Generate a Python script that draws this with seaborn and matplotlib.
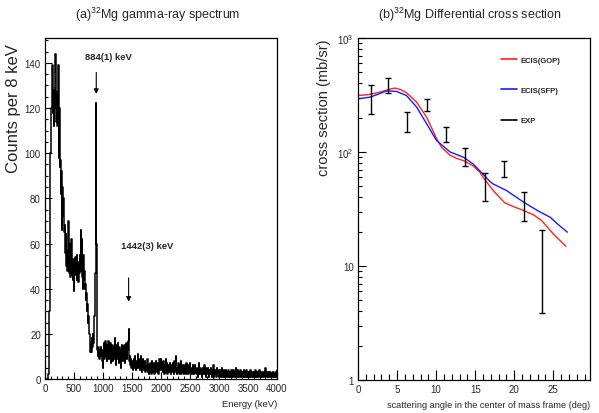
import numpy as np
import pandas as pd
import matplotlib
matplotlib.use("Agg")
import matplotlib.pyplot as plt
import seaborn as sns
from matplotlib.lines import Line2D
from matplotlib.ticker import MultipleLocator, LogLocator, NullFormatter, FixedLocator, FixedFormatter

# ---------------- data: (a) gamma-ray spectrum, 8 keV bins from 0 to 4000 keV
bin_width = 8
spectrum_counts = [
    0, 0, 0, 0, 0, 0, 0, 2, 8, 30, 65, 100, 114, 113, 120, 128, 139, 118, 126, 112, 128, 120, 144, 126, 114,
    127, 112, 122, 125, 139, 98, 120, 94, 97, 82, 92, 66, 85, 72, 80, 66, 73, 65, 68, 56, 64, 50, 57, 48, 55,
    70, 52, 47, 60, 45, 55, 48, 62, 46, 52, 44, 53, 39, 50, 46, 54, 47, 52, 44, 55, 46, 52, 43, 50, 47,
    55, 48, 66, 50, 62, 45, 52, 40, 55, 44, 48, 40, 42, 35, 38, 30, 33, 25, 28, 22, 20, 18, 15, 12, 16,
    12, 18, 14, 20, 16, 22, 28, 38, 47, 100, 122, 60, 25, 13, 10, 14, 12, 9, 13, 10, 14, 11, 12, 8, 13,
    5, 12, 16, 9, 14, 17, 10, 13, 8, 15, 11, 17, 12, 9, 14, 11, 16, 7, 13, 10, 15, 8, 12, 14, 9,
    18, 10, 13, 6, 15, 11, 9, 16, 12, 7, 14, 10, 13, 5, 11, 15, 9, 12, 8, 14, 10, 15, 7, 12, 11,
    16, 9, 14, 13, 17, 22, 12, 8, 10, 6, 9, 5, 7, 8, 4, 6, 9, 5, 7, 10, 6, 4, 8, 5, 7,
    11, 5, 6, 9, 4, 7, 10, 5, 8, 3, 6, 9, 4, 7, 5, 8, 3, 6, 4, 7, 9, 3, 5, 6, 2,
    6, 3, 7, 5, 2, 8, 4, 6, 3, 5, 7, 2, 6, 4, 8, 3, 5, 7, 4, 2, 6, 9, 4, 5, 8,
    9, 5, 4, 7, 3, 8, 5, 2, 6, 4, 9, 3, 5, 7, 2, 6, 4, 5, 3, 7, 4, 2, 6, 5, 3,
    7, 4, 2, 5, 8, 3, 6, 10, 4, 2, 5, 3, 7, 4, 2, 6, 3, 5, 8, 2, 4, 6, 3, 5, 2,
    6, 3, 4, 2, 7, 4, 3, 5, 2, 6, 3, 4, 7, 2, 5, 3, 4, 2, 6, 3, 5, 2, 4, 6, 3,
    4, 2, 5, 3, 1, 4, 7, 2, 3, 5, 2, 4, 3, 1, 5, 3, 2, 4, 6, 2, 3, 5, 1, 3, 4,
    2, 5, 3, 1, 4, 2, 3, 5, 2, 1, 4, 3, 2, 6, 1, 3, 4, 2, 3, 1, 5, 2, 3, 4, 1,
    3, 2, 4, 1, 3, 2, 5, 1, 3, 2, 4, 1, 2, 3, 1, 4, 2, 3, 1, 2, 4, 1, 3, 2, 1,
    2, 4, 1, 3, 2, 1, 4, 2, 3, 1, 2, 5, 1, 2, 3, 1, 4, 2, 1, 3, 2, 4, 1, 2, 3,
    1, 3, 2, 4, 1, 2, 3, 1, 2, 4, 1, 3, 2, 1, 3, 2, 1, 4, 2, 3, 1, 2, 3, 1, 2,
    3, 1, 2, 4, 1, 2, 3, 1, 2, 1, 3, 2, 4, 1, 2, 1, 3, 2, 1, 2, 3, 1, 2, 1, 3,
    5, 2, 1, 3, 2, 1, 2, 3, 1, 2, 1, 3, 2, 1, 2, 1, 3, 1, 2, 1, 2, 3, 1, 2, 4,
]
peak_energies = [884, 1442]
peak_labels = ["884(1) keV", "1442(3) keV"]

# ---------------- data: (b) differential cross section
gop_angle = [0.0, 1.5, 3.0, 4.0, 4.73, 5.5, 6.2, 7.5, 8.78, 10.06, 10.7, 11.76, 12.6, 13.5, 14.7,
             15.6, 16.0, 17.3, 18.8, 20.0, 21.2, 22.5, 23.5, 25.0, 26.6]
gop_xsec = [313, 320, 338, 355, 364, 352, 331, 274, 202, 131, 110, 94, 88, 84, 76,
            66.5, 60, 46, 35.8, 33, 30.7, 28, 25.1, 19.1, 14.9]
sfp_angle = [0.0, 1.53, 2.5, 3.67, 4.95, 6.2, 7.5, 8.78, 10.06, 11.8, 13.5, 14.7, 16.0, 16.9,
             17.3, 19.0, 21.2, 23.1, 24.6, 25.5, 26.8]
sfp_xsec = [293, 303, 320, 344, 340, 313, 248, 177, 126, 100, 90, 79, 64, 55,
            52.5, 46, 36.3, 30.3, 26.8, 23.5, 19.8]
exp_angle = [1.7, 3.8, 6.3, 8.8, 11.2, 13.7, 16.2, 18.7, 21.2, 23.6]
exp_xsec = [300, 388, 188, 260, 144, 92, 51, 72, 35, 12.3]
exp_err = [85, 58, 38, 33, 22, 17, 14, 12, 10, 8.4]

# ---------------- style
sns.set_style("ticks")
plt.rcParams["font.family"] = ["Liberation Sans", "DejaVu Sans"]
plt.rcParams["mathtext.fontset"] = "custom"
plt.rcParams["mathtext.rm"] = "Liberation Sans"
plt.rcParams["mathtext.it"] = "Liberation Sans:italic"
plt.rcParams["mathtext.bf"] = "Liberation Sans:bold"

fig = plt.figure(figsize=(5.99, 4.14), dpi=100)
fig.patch.set_facecolor("white")
ax1 = fig.add_axes([0.0751, 0.0821, 0.3873, 0.8237])
ax2 = fig.add_axes([0.5977, 0.0797, 0.3873, 0.8260])

# ---------------- panel (a)
n_bins = len(spectrum_counts)
centers = np.arange(n_bins) * bin_width + bin_width / 2
df_spec = pd.DataFrame({"energy": centers, "counts": spectrum_counts})
sns.histplot(data=df_spec, x="energy", weights="counts", bins=n_bins,
             binrange=(0, n_bins * bin_width), element="step",
             fill=False, color="black", linewidth=1.1, ax=ax1)
ax1.set_xlim(0, 4000)
ax1.set_ylim(0, 151)
ax1.xaxis.set_major_locator(MultipleLocator(500))
ax1.xaxis.set_minor_locator(MultipleLocator(100))
ax1.yaxis.set_major_locator(MultipleLocator(20))
ax1.yaxis.set_minor_locator(MultipleLocator(5))
ax1.tick_params(which="both", direction="in", labelsize=7, pad=3, color="black")
ax1.tick_params(which="major", length=5, width=0.8)
ax1.tick_params(which="minor", length=2.5, width=0.8)
ax1.set_xlabel("Energy (keV)", fontsize=6.8, loc="right", labelpad=4)
ax1.set_ylabel("Counts per 8 keV", fontsize=12, labelpad=6)
ax1.yaxis.set_label_coords(-0.105, 0.795)

arrow_tops = [137, 46]
arrow_heads = [125, 33]
label_pos = [(1088, 143), (1762, 59)]
for e, lab, top, head, (tx, ty) in zip(peak_energies, peak_labels, arrow_tops, arrow_heads, label_pos):
    ax1.annotate("", xy=(e, head), xytext=(e, top),
                 arrowprops=dict(arrowstyle="-|>", color="black", lw=0.8, mutation_scale=7))
    ax1.text(tx, ty, lab, fontsize=6.8, fontweight="bold", ha="center", va="center")

for s in ax1.spines.values():
    s.set_linewidth(0.9)
    s.set_color("black")

fig.text(0.264, 0.965, r"(a)$^{32}$Mg gamma-ray spectrum", fontsize=9, ha="center", va="center")

# ---------------- panel (b)
sns.lineplot(x=gop_angle, y=gop_xsec, color="#ff2020", linewidth=1.0, ax=ax2)
sns.lineplot(x=sfp_angle, y=sfp_xsec, color="#1a1aff", linewidth=1.0, ax=ax2)
ax2.errorbar(exp_angle, exp_xsec, yerr=exp_err, fmt="none", ecolor="black", elinewidth=1.0,
             capsize=2, capthick=1.0)
ax2.set_yscale("log")
ax2.set_xlim(0, 29.7)
ax2.set_ylim(1, 1000)
ax2.xaxis.set_major_locator(MultipleLocator(5))
ax2.xaxis.set_minor_locator(MultipleLocator(1))
ax2.yaxis.set_major_locator(FixedLocator([1, 10, 100, 1000]))
ax2.yaxis.set_major_formatter(FixedFormatter(["1", "10", r"$10^{2}$", r"$10^{3}$"]))
ax2.yaxis.set_minor_locator(LogLocator(base=10, subs=np.arange(2, 10)))
ax2.yaxis.set_minor_formatter(NullFormatter())
ax2.tick_params(which="both", direction="in", labelsize=7, pad=3, color="black")
ax2.tick_params(axis="x", which="major", length=7, width=0.8)
ax2.tick_params(axis="x", which="minor", length=4, width=0.8)
ax2.tick_params(axis="y", which="major", length=6, width=0.8)
ax2.tick_params(axis="y", which="minor", length=3, width=0.8)
ax2.set_xlabel("scattering angle in the center of mass frame (deg)", fontsize=6.6, loc="right", labelpad=4)
ax2.set_ylabel("cross section (mb/sr)", fontsize=10.5, labelpad=4)
ax2.yaxis.set_label_coords(-0.115, 0.8)
for s in ax2.spines.values():
    s.set_linewidth(0.9)
    s.set_color("black")

handles = [Line2D([], [], color="#ff2020", lw=1.2),
           Line2D([], [], color="#1a1aff", lw=1.2),
           Line2D([], [], color="black", lw=1.2)]
leg = ax2.legend(handles, ["ECIS(GOP)", "ECIS(SFP)", "EXP"], loc="upper left",
                 bbox_to_anchor=(0.605, 0.955), frameon=False, prop={"size": 5.5, "weight": "bold"},
                 handlelength=2.0, handletextpad=0.5, labelspacing=3.0, borderaxespad=0)

fig.text(0.785, 0.965, r"(b)$^{32}$Mg Differential cross section", fontsize=9, ha="center", va="center")

fig.savefig("out.png", dpi=100, facecolor="white")
